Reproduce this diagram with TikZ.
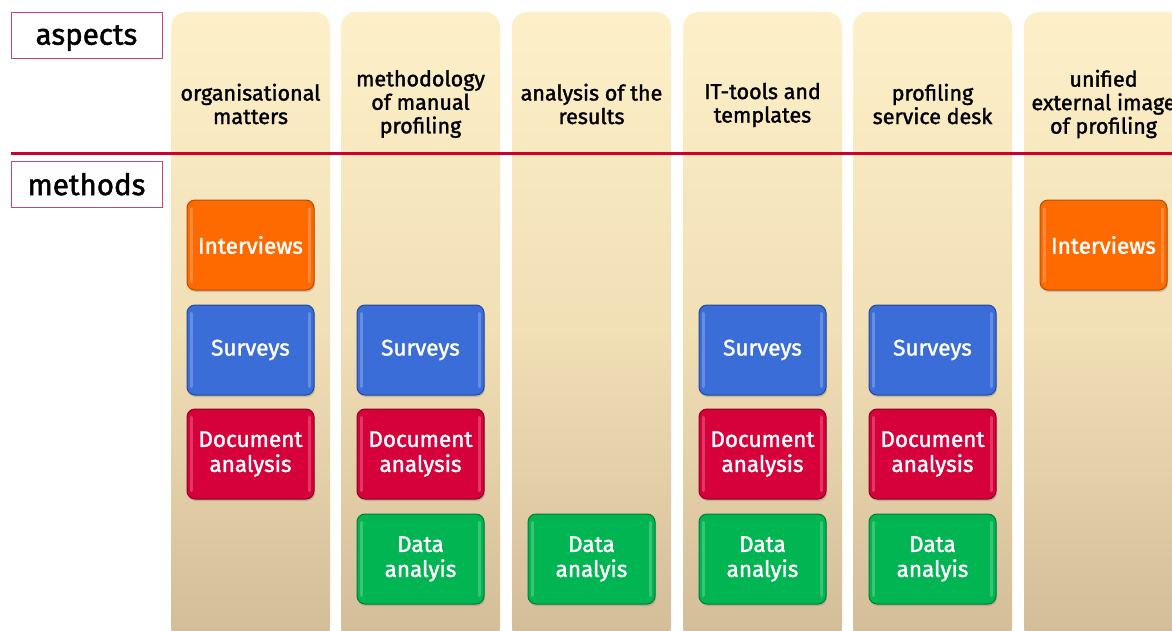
\documentclass[tikz,border=0pt]{standalone}
\usepackage{fontspec}
\setmainfont{Fira Sans}
\newfontfamily\medfont{Fira Sans}[FakeBold=1.6]
\usetikzlibrary{shadows}

\definecolor{colTop}{HTML}{FDF0C8}
\definecolor{colMid}{HTML}{F1DFB6}
\definecolor{colBot}{HTML}{D3BC98}
\definecolor{lineRed}{HTML}{D0002E}
\definecolor{labelEdge}{HTML}{C24A66}
\definecolor{orangeFill}{HTML}{FF6A00}
\definecolor{orangeEdge}{HTML}{B84A00}
\definecolor{blueFill}{HTML}{3B6DD8}
\definecolor{blueEdge}{HTML}{27489A}
\definecolor{redFill}{HTML}{D6003A}
\definecolor{redEdge}{HTML}{8E0026}
\definecolor{greenFill}{HTML}{00B552}
\definecolor{greenEdge}{HTML}{007A36}

\tikzset{
  column/.style={rounded corners=15pt, minimum width=159pt, minimum height=630pt,
    top color=colTop, bottom color=colBot, middle color=colMid, draw=none,
    inner sep=0pt},
  header/.style={align=center, font=\medfont\fontsize{21.5}{23.5}\selectfont,
    text=black, inner sep=0pt},
  label/.style={draw=labelEdge, line width=0.8pt, minimum width=151pt, minimum height=46pt,
    font=\medfont\fontsize{29.5}{31}\selectfont, text=black, inner sep=0pt,
    text depth=0pt},
  method/.style={rounded corners=8pt, minimum width=127pt, minimum height=90pt,
    text=white, align=center, font=\medfont\fontsize{22.5}{25}\selectfont,
    inner sep=0pt, line width=1pt,
    drop shadow={opacity=0.35, shadow xshift=1pt, shadow yshift=-2pt}},
  interviews/.style={method, fill=orangeFill, draw=orangeEdge},
  surveys/.style={method, fill=blueFill, draw=blueEdge},
  docs/.style={method, fill=redFill, draw=redEdge},
  data/.style={method, fill=greenFill, draw=greenEdge},
  gloss/.style={white, opacity=0.22, line width=3.5pt, line cap=round}
}

\newcommand{\glossy}[1]{%
  \draw[gloss] ([xshift=5pt,yshift=-9pt]#1.north west) -- ([xshift=5pt,yshift=9pt]#1.south west);
  \draw[gloss] ([xshift=-5pt,yshift=-9pt]#1.north east) -- ([xshift=-5pt,yshift=9pt]#1.south east);
}

\begin{document}
\begin{tikzpicture}[x=1pt,y=-1pt]
\useasboundingbox (0,0) rectangle (1172,630);
\clip (0,0) rectangle (1172,630);
\fill[white] (0,0) rectangle (1172,630);

% aspect columns
\node[column] (col1) at (250.5,327) {};
\node[column] (col2) at (420.5,327) {};
\node[column] (col3) at (591.5,327) {};
\node[column] (col4) at (762.5,327) {};
\node[column] (col5) at (932.5,327) {};
\node[column] (col6) at (1103.5,327) {};

% column headings
\node[header] (h1) at (250.5,104) {organisational\\matters};
\node[header] (h2) at (420.5,104) {methodology\\of manual\\profiling};
\node[header] (h3) at (591.5,104) {analysis of the\\results};
\node[header] (h4) at (762.5,105) {IT-tools and\\templates};
\node[header] (h5) at (932.5,104) {profiling\\service desk};
\node[header] (h6) at (1103.5,104) {unified\\external image\\of profiling};

% divider between aspects and methods
\coordinate (divL) at (11,153);
\coordinate (divR) at (1172,153);
\draw[lineRed, line width=3pt] (divL) -- (divR);

% row labels
\node[label, fill=white] (aspects) at (86.5,35) {aspects};
\node[label, fill=white] (methods) at (86.5,184) {methods};

% methods per aspect
\node[interviews] (i1) at (250.5,245) {Interviews};
\node[surveys]    (s1) at (250.5,350) {Surveys};
\node[docs]       (d1) at (250.5,454) {Document\\analysis};

\node[surveys]    (s2) at (420.5,350) {Surveys};
\node[docs]       (d2) at (420.5,454) {Document\\analysis};
\node[data]       (a2) at (420.5,559) {Data\\analyis};

\node[data]       (a3) at (591.5,559) {Data\\analyis};

\node[surveys]    (s4) at (762.5,350) {Surveys};
\node[docs]       (d4) at (762.5,454) {Document\\analysis};
\node[data]       (a4) at (762.5,559) {Data\\analyis};

\node[surveys]    (s5) at (932.5,350) {Surveys};
\node[docs]       (d5) at (932.5,454) {Document\\analysis};
\node[data]       (a5) at (932.5,559) {Data\\analyis};

\node[interviews] (i6) at (1103.5,245) {Interviews};

\foreach \b in {i1,s1,d1,s2,d2,a2,a3,s4,d4,a4,s5,d5,a5,i6}{\glossy{\b}}
\end{tikzpicture}
\end{document}
